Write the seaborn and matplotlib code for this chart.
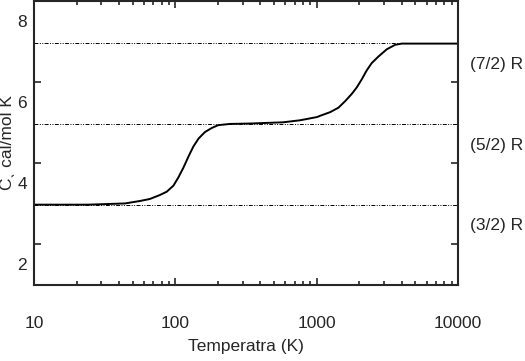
import numpy as np
import pandas as pd
import seaborn as sns
import matplotlib
matplotlib.use("Agg")
import matplotlib.pyplot as plt
import matplotlib.transforms as mtransforms

# Heat capacity curve
temp_K = [10, 24, 44, 56, 66, 78, 87, 97, 105, 114, 124, 134, 146, 162,
          181, 201, 244, 338, 578, 763, 1007, 1057, 1245, 1425, 1589, 1772,
          1922, 2085, 2261, 2452, 2733, 3135, 3590, 4000, 4600, 10000]
cv = [2.98, 2.98, 3.01, 3.07, 3.12, 3.22, 3.30, 3.45, 3.65, 3.89, 4.17,
      4.41, 4.61, 4.77, 4.87, 4.94, 4.97, 4.98, 5.01, 5.06, 5.14, 5.17,
      5.26, 5.37, 5.53, 5.71, 5.87, 6.07, 6.29, 6.47, 6.63, 6.81, 6.92,
      6.95, 6.95, 6.95]

R = 1.987
level_factors = [1.5, 2.5, 3.5]
level_labels = ["(3/2) R", "(5/2) R", "(7/2) R"]

x_ticks = [10, 100, 1000, 10000]
x_ticklabels = ["10", "100", "1000", "10000"]
y_ticks = [2, 4, 6, 8]
y_ticklabels = ["2", "4", "6", "8"]

df = pd.DataFrame({"T": temp_K, "Cv": cv})

sns.set_style("ticks")
plt.rcParams["font.family"] = ["Liberation Sans", "DejaVu Sans"]
plt.rcParams["font.size"] = 12.5

fig = plt.figure(figsize=(5.25, 3.61), dpi=100)
ax = fig.add_axes([34 / 525, 1 - 285 / 361, 424 / 525, 284 / 361])

# dotted reference levels
for f in level_factors:
    ax.axhline(f * R, color="black", lw=0.7, ls=(0, (4, 1.5, 1, 1.5, 1, 1.5)))

sns.lineplot(data=df, x="T", y="Cv", color="black", lw=1.4, ax=ax)

ax.set_xscale("log")
ax.set_xlim(10, 10000)
ax.set_ylim(1, 8)
ax.set_xticks(x_ticks)
ax.set_xticklabels(x_ticklabels)
ax.set_yticks(y_ticks)
ax.set_yticklabels(y_ticklabels)

ax.tick_params(which="both", direction="in", top=True, right=True, width=1.2)
ax.tick_params(which="major", length=5)
ax.tick_params(which="minor", length=3)
ax.tick_params(axis="x", which="major", pad=22)
ax.tick_params(axis="y", which="major", pad=5)
ax.minorticks_on()
ax.yaxis.set_minor_locator(matplotlib.ticker.NullLocator())

# the y tick labels sit lower than their ticks in the original
shift = mtransforms.ScaledTranslation(0, -20 / 100, fig.dpi_scale_trans)
for lab in ax.get_yticklabels():
    lab.set_transform(lab.get_transform() + shift)

for s in ax.spines.values():
    s.set_linewidth(1.5)

ax.set_xlabel("Temperatra (K)", labelpad=6)
ax.set_ylabel("C\u02ce cal/mol K", labelpad=2)

for f, lab in zip(level_factors, level_labels):
    ax.annotate(lab, xy=(1, f * R), xycoords=("axes fraction", "data"),
                xytext=(12, -21), textcoords="offset pixels",
                ha="left", va="center")

fig.savefig("out.png", dpi=100)
